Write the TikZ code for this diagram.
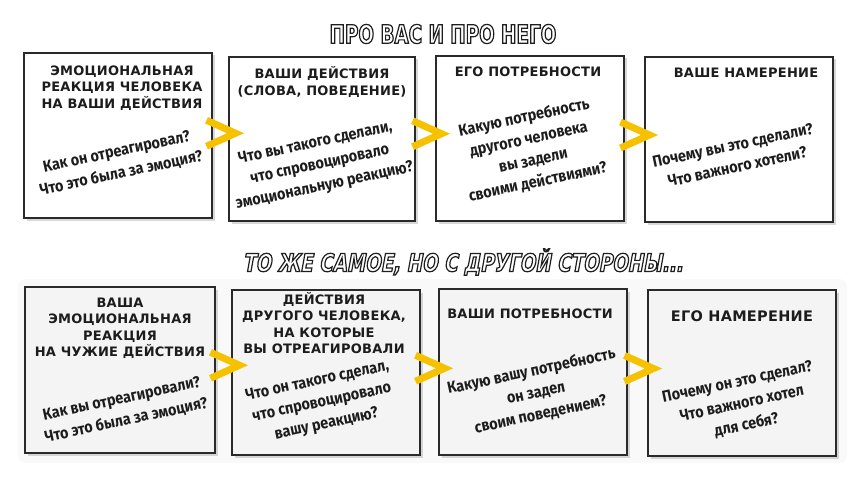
\documentclass[tikz,border=0pt]{standalone}
\usepackage{fontspec}
\usetikzlibrary{calc,shadows}
\setmainfont{DejaVu Sans}
\newfontfamily\hdfont{DejaVu Sans}[LetterSpace=2]
\newfontfamily\qfont{Fira Sans}[FakeStretch=0.9]
\newfontfamily\ttlfont{DejaVu Sans}[FakeStretch=0.72]
\newfontfamily\ttlfontb{DejaVu Sans}[FakeStretch=0.75,FakeSlant=0.18]
\newcommand\hollow[1]{\special{pdf:literal direct 1 Tr 1.2 w 0.12 G}#1\special{pdf:literal direct 0 Tr}}
\definecolor{chev}{HTML}{F6C200}
\definecolor{ink}{HTML}{1C1C1C}
\definecolor{frame}{HTML}{2A2A2A}
\definecolor{band}{HTML}{F4F4F4}
\begin{document}
\begin{tikzpicture}[x=1pt,y=-1pt,
  box/.style={draw=frame, line width=1.6pt, inner sep=0pt,
    drop shadow={shadow xshift=2.5pt, shadow yshift=-2.5pt, fill=black!30, opacity=0.5}},
  topbox/.style={box, fill=white},
  botbox/.style={box, fill=band},
  hd/.style={text=ink, align=center, inner sep=0pt,
    font=\hdfont\bfseries\fontsize{13}{16.5}\selectfont},
  qq/.style={text=ink, align=center, inner sep=0pt, rotate=12,
    font=\qfont\bfseries\fontsize{16}{22}\selectfont},
  ttl/.style={inner sep=0pt},
  chevron/.pic={\draw[chev, line width=7pt, line join=miter, line cap=butt]
     (-15,-13) -- (14,0) -- (-15,13);}
]
\useasboundingbox (0,0) rectangle (858,476);
\fill[white] (0,0) rectangle (858,476);
% light band behind the lower row
\fill[band!50!white, rounded corners=8pt] (18,279) rectangle (847,463);

% titles
\node[ttl] (t1) at (443,34) {\ttlfont\bfseries\fontsize{25.5}{25}\selectfont\hollow{ПРО ВАС И ПРО НЕГО}};
\node[ttl] (t2) at (463,262) {\ttlfontb\bfseries\fontsize{24.5}{25}\selectfont\hollow{ТО ЖЕ САМОЕ, НО С ДРУГОЙ СТОРОНЫ...}};

% top row boxes
\node[topbox, minimum width=188, minimum height=165] (b1) at (118,135.5) {};
\node[topbox, minimum width=186, minimum height=164] (b2) at (322,139) {};
\node[topbox, minimum width=188, minimum height=165] (b3) at (530,138.5) {};
\node[topbox, minimum width=188, minimum height=165] (b4) at (739,139.5) {};

% bottom row boxes
\node[botbox, minimum width=190, minimum height=166] (c1) at (120,370) {};
\node[botbox, minimum width=188, minimum height=165] (c2) at (326,372.5) {};
\node[botbox, minimum width=188, minimum height=166] (c3) at (533,372) {};
\node[botbox, minimum width=188, minimum height=166] (c4) at (742,373) {};

% chevrons between boxes
\pic at ($(b1.east)!0.5!(b2.west)+(1,-4)$) {chevron};
\pic at ($(b2.east)!0.5!(b3.west)+(2,-5)$) {chevron};
\pic at ($(b3.east)!0.5!(b4.west)+(1,-4)$) {chevron};
\pic at ($(c1.east)!0.5!(c2.west)+(2,-6)$) {chevron};
\pic at ($(c2.east)!0.5!(c3.west)+(1,-4)$) {chevron};
\pic at ($(c3.east)!0.5!(c4.west)+(2,-4)$) {chevron};

% top row headers
\node[hd] (h1) at (122,88) {ЭМОЦИОНАЛЬНАЯ\\РЕАКЦИЯ ЧЕЛОВЕКА\\НА ВАШИ ДЕЙСТВИЯ};
\node[hd] (h2) at (322,82) {ВАШИ ДЕЙСТВИЯ\\(СЛОВА, ПОВЕДЕНИЕ)};
\node[hd] (h3) at (528,72) {ЕГО ПОТРЕБНОСТИ};
\node[hd] (h4) at (746,73) {ВАШЕ НАМЕРЕНИЕ};

% top row questions
\node[qq] (q1) at (119,163) {Как он отреагировал?\\Что это была за эмоция?};
\node[qq] (q2) at (320,165) {Что вы такого сделали,\\что спровоцировало\\эмоциональную реакцию?};
\node[qq] (q3) at (531,150) {Какую потребность\\другого человека\\вы задели\\своими действиями?};
\node[qq] (q4) at (735,156) {Почему вы это сделали?\\Что важного хотели?};

% bottom row headers
\node[hd] (k1) at (120,328.5) {ВАША\\ЭМОЦИОНАЛЬНАЯ\\РЕАКЦИЯ\\НА ЧУЖИЕ ДЕЙСТВИЯ};
\node[hd] (k2) at (324,323) {ДЕЙСТВИЯ\\ДРУГОГО ЧЕЛОВЕКА,\\НА КОТОРЫЕ\\ВЫ ОТРЕАГИРОВАЛИ};
\node[hd] (k3) at (530,314) {ВАШИ ПОТРЕБНОСТИ};
\node[hd, font=\hdfont\bfseries\fontsize{14.5}{17}\selectfont] (k4) at (742,316) {ЕГО НАМЕРЕНИЕ};

% bottom row questions
\node[qq] (p1) at (124,410) {Как вы отреагировали?\\Что это была за эмоция?};
\node[qq] (p2) at (322,403) {Что он такого сделал,\\что спровоцировало\\вашу реакцию?};
\node[qq] (p3) at (536,393) {Какую вашу потребность\\он задел\\своим поведением?};
\node[qq] (p4) at (742,404) {Почему он это сделал?\\Что важного хотел\\для себя?};
\end{tikzpicture}
\end{document}
